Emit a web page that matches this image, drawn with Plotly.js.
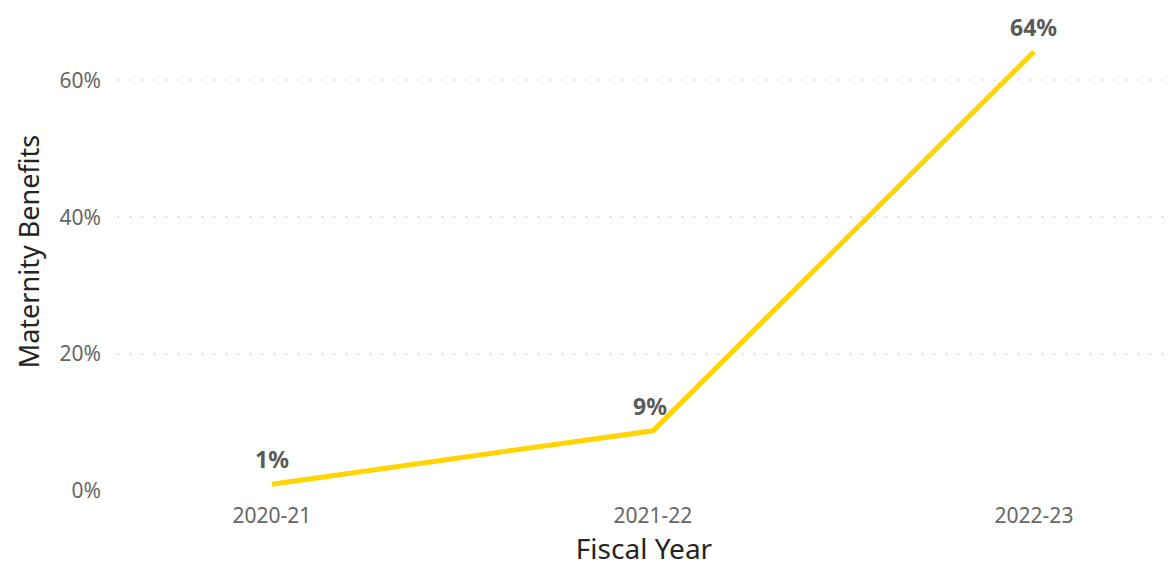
<!DOCTYPE html>
<html>
<head>
<meta charset="utf-8">
<script src="https://cdn.plot.ly/plotly-3.0.1.min.js"></script>
<style>html,body{margin:0;padding:0;background:#fff;}#chart{width:1170px;height:574px;}</style>
</head>
<body>
<div id="chart"></div>
<script>
const years = ["2020-21", "2021-22", "2022-23"];
const maternityBenefits = [1.0, 8.8, 64.2];
const labels = ["1%", "9%", "64%"];
const yTickVals = [0, 20, 40, 60];
const yTickText = ["0%", "20%", "40%", "60%"];

const trace = {
  x: years,
  y: maternityBenefits,
  type: "scatter",
  mode: "lines",
  line: {color: "#FFD400", width: 5},
  cliponaxis: false,
  hoverinfo: "skip"
};

const annotations = years.map((yr, i) => ({
  x: yr, y: maternityBenefits[i], xref: "x", yref: "y",
  text: labels[i], showarrow: false,
  xanchor: "center", yanchor: "middle", yshift: 25, xshift: i === 1 ? -3 : 0,
  font: {family: "Noto Sans, Open Sans, sans-serif", size: 23, color: "#5a5a5a", weight: 700}
}));

const layout = {
  width: 1170, height: 574,
  margin: {l: 118, r: 0, t: 12, b: 83},
  paper_bgcolor: "#fff", plot_bgcolor: "#fff",
  showlegend: false,
  font: {family: "Noto Sans, Open Sans, sans-serif", color: "#666"},
  annotations: annotations,
  xaxis: {
    type: "category",
    range: [-0.404, 2.357],
    showgrid: false, zeroline: false, showline: false,
    ticks: "",
    ticklabelstandoff: 10,
    tickfont: {size: 21, color: "#666"},
    title: {text: "Fiscal Year", font: {size: 28, color: "#252423"}, standoff: 9}
  },
  yaxis: {
    range: [0, 70],
    tickvals: yTickVals, ticktext: yTickText,
    showgrid: true, gridcolor: "#c8c8c8", griddash: "1px,11px", gridwidth: 2,
    zeroline: false, showline: false,
    ticks: "",
    ticklabelstandoff: 16,
    tickfont: {size: 21, color: "#666"},
    title: {text: "Maternity Benefits", font: {size: 27, color: "#252423"}, standoff: 12}
  }
};

Plotly.newPlot("chart", [trace], layout, {displayModeBar: false, staticPlot: true});
</script>
</body>
</html>
